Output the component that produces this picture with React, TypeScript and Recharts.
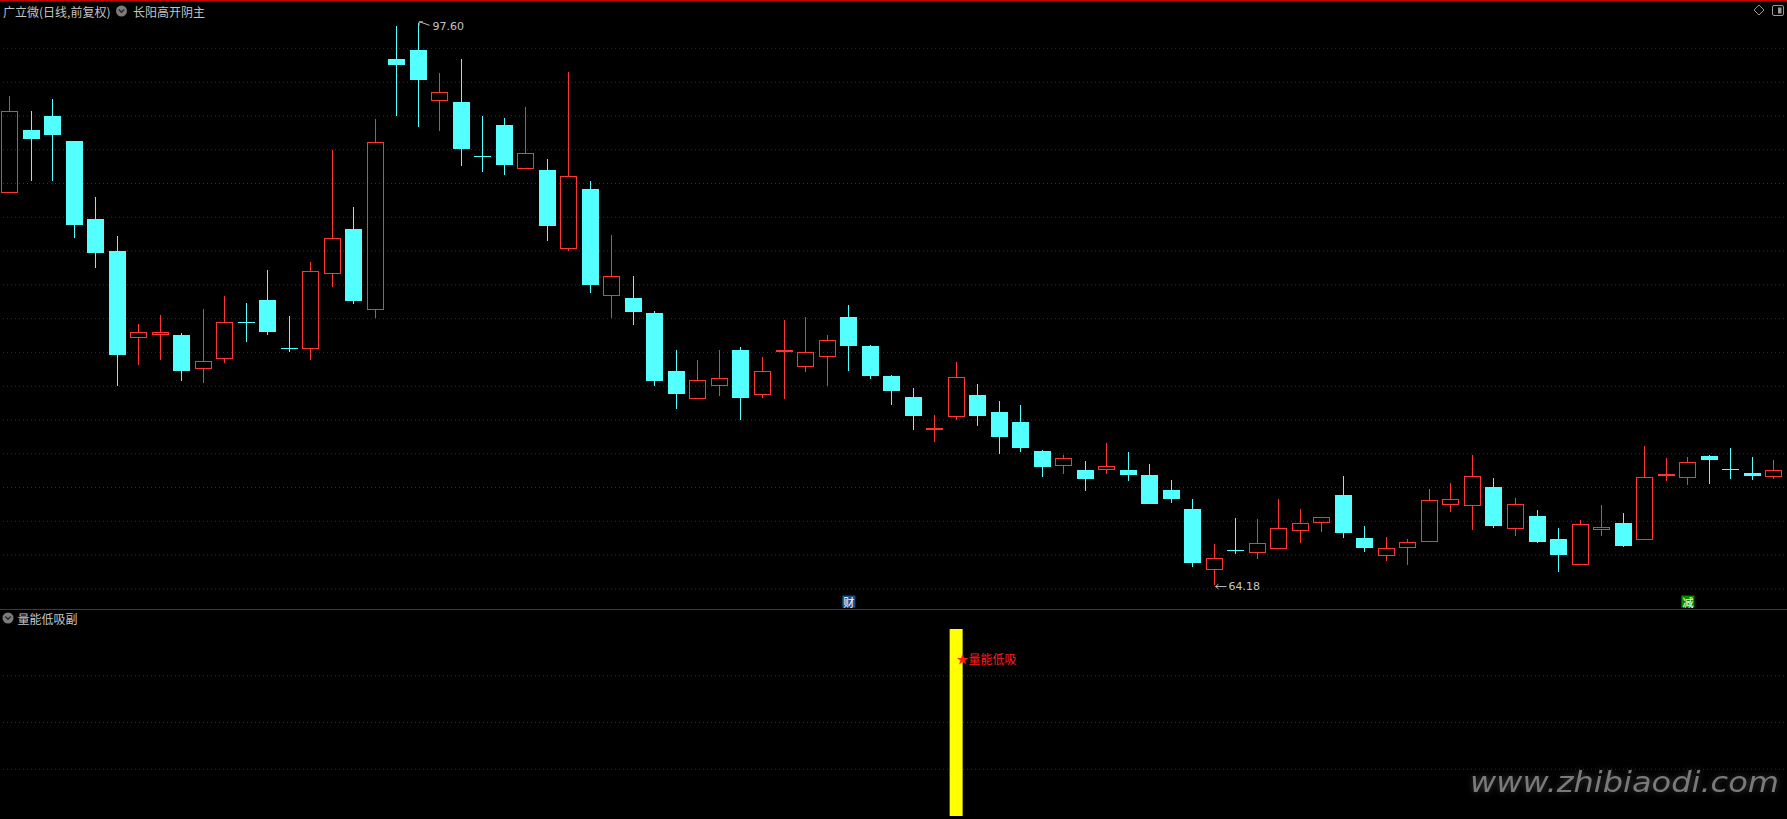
import React from "react";
import { Bar, CartesianGrid, ComposedChart, ReferenceDot, XAxis, YAxis } from "recharts";

// daily candles (前复权)
const opens = [
  87.49, 91.26, 92.09, 90.6, 85.96, 84.06, 78.86, 79.04, 79.06, 77.06,
  77.62, 79.85, 81.14, 78.27, 78.21, 82.67, 85.37, 80.53, 95.48, 96.02,
  92.96, 92.92, 89.7, 91.55, 88.92, 88.88, 84.16, 87.75, 81.36, 81.26,
  80.37, 76.92, 75.24, 76.01, 78.17, 75.47, 78.03, 77.14, 77.73, 80.13,
  78.41, 76.62, 75.37, 73.46, 74.16, 75.49, 74.48, 73.89, 72.16, 71.29,
  71.03, 71.01, 71.03, 70.73, 69.84, 68.71, 65.1, 66.28, 66.11, 66.35,
  67.42, 67.9, 69.54, 66.98, 65.93, 66.36, 66.76, 68.97, 68.91, 70.0,
  67.54, 68.28, 66.91, 65.4, 67.44, 67.86, 66.85, 70.66, 70.54, 71.85,
  71.1, 70.85, 70.63,
];
const highs = [
  93.28, 92.37, 93.1, 90.6, 87.27, 84.95, 79.72, 80.25, 79.18, 80.61,
  81.38, 80.97, 82.93, 80.19, 83.4, 90.07, 86.68, 91.91, 97.44, 97.6,
  94.65, 95.48, 92.09, 91.97, 92.62, 89.53, 94.71, 88.22, 85.01, 82.57,
  80.49, 78.17, 77.57, 78.17, 78.35, 77.75, 79.95, 80.13, 79.06, 80.85,
  78.47, 76.68, 75.93, 74.3, 77.45, 76.15, 75.13, 74.9, 72.22, 71.92,
  71.57, 72.64, 72.1, 71.39, 70.44, 69.3, 66.63, 68.17, 68.12, 69.3,
  68.71, 68.23, 70.67, 67.7, 67.04, 66.93, 69.9, 70.26, 71.94, 70.54,
  69.35, 68.65, 67.58, 68.06, 68.95, 68.47, 72.46, 71.74, 71.8, 71.92,
  72.34, 71.8, 71.63,
];
const lows = [
  87.49, 88.24, 88.24, 84.85, 83.06, 76.05, 77.29, 77.59, 76.34, 76.22,
  77.41, 78.66, 79.08, 78.07, 77.59, 81.9, 80.92, 80.09, 92.11, 91.45,
  91.21, 89.13, 88.78, 88.6, 88.92, 84.67, 84.08, 81.58, 80.09, 79.67,
  76.05, 74.68, 75.24, 75.41, 74.02, 75.33, 75.27, 76.88, 76.05, 76.94,
  76.46, 74.91, 73.43, 72.71, 74.02, 73.67, 72.0, 72.12, 70.63, 70.81,
  69.8, 70.81, 70.39, 69.02, 69.08, 65.28, 64.18, 66.05, 65.75, 66.35,
  66.71, 67.36, 67.0, 66.17, 65.63, 65.4, 66.76, 68.55, 67.48, 67.6,
  67.12, 66.71, 64.98, 65.4, 67.12, 66.47, 66.85, 70.39, 70.16, 70.22,
  70.51, 70.45, 70.51,
];
const closes = [
  92.37, 90.74, 90.98, 85.62, 83.96, 77.89, 79.22, 79.22, 76.94, 77.5,
  79.82, 79.79, 79.26, 78.21, 82.85, 84.81, 81.1, 90.52, 95.14, 94.25,
  93.5, 90.14, 89.64, 89.19, 89.87, 85.56, 88.5, 82.05, 82.55, 80.45,
  76.34, 75.57, 76.37, 76.49, 75.33, 76.9, 78.15, 78.03, 78.75, 78.42,
  76.64, 75.75, 74.26, 73.52, 76.54, 74.26, 73.01, 72.36, 71.23, 71.73,
  70.51, 71.25, 70.75, 69.02, 69.32, 65.52, 65.78, 66.22, 66.67, 67.58,
  67.86, 68.23, 67.3, 66.41, 66.37, 66.73, 69.23, 69.29, 70.66, 67.72,
  68.99, 66.76, 65.99, 67.8, 67.62, 66.53, 70.6, 70.77, 71.49, 71.64,
  71.04, 70.69, 71.01,
];

const priceDomain = [62.8, 98.9];
const gridTicks = [
  96.11, 94.1, 92.09, 90.08, 88.07, 86.06, 84.05, 82.04, 80.03,
  78.02, 76.01, 74.0, 71.99, 69.98, 67.97, 65.96, 63.95,
];

const highMark = { idx: 19, value: 97.6, text: "97.60" };
const lowMark = { idx: 56, value: 64.18, text: "64.18" };

// small boxed markers under the candles
const flagIdx = [39, 78];
const flagText = ["财", "减"];
const flagColor = ["#1c4f8c", "#008c00"];
const flagLevel = 63.2;

// 量能低吸 sub-panel
const signalIdx = [44];
const signalValues = [100];
const signalText = "★量能低吸";
const signalTextLevel = 84;
const subDomain = [0, 100];
const subTicks = [25, 50, 75];

const UP = "#ff3434";
const DOWN = "#54ffff";
const GRID = "#a80000";
const LINE = "#c80000";
const TXT = "#c4c4c4";
const CJK = "'Noto Sans CJK SC', sans-serif";

const candles = opens.map((o, i) => ({
  i,
  open: o,
  high: highs[i],
  low: lows[i],
  close: closes[i],
  range: [lows[i], highs[i]],
}));

const signals = opens.map((_, i) => {
  const k = signalIdx.indexOf(i);
  return { i, v: k >= 0 ? signalValues[k] : 0 };
});

function Candle(props: any) {
  const { x, y, width, height, payload } = props;
  const { open, high, low, close } = payload;
  const top = Math.min(y, y + height);
  const bot = Math.max(y, y + height);
  const span = high - low || 1;
  const py = (v: number) => top + ((high - v) / span) * (bot - top);
  const cx = Math.round(x + width / 2 - 0.5);
  const bx = Math.round(x);
  const bw = Math.round(width);
  const up = close >= open;
  const bTop = Math.round(py(Math.max(open, close)));
  const bBot = Math.round(py(Math.min(open, close)));
  const t = Math.round(top);
  const b = Math.round(bot);

  if (!up) {
    return (
      <g shapeRendering="crispEdges">
        <rect x={cx} y={t} width={1} height={b - t} fill={DOWN} />
        <rect x={bx} y={bTop} width={bw} height={Math.max(1, bBot - bTop)} fill={DOWN} />
      </g>
    );
  }
  if (bBot - bTop < 3) {
    return (
      <g shapeRendering="crispEdges">
        <rect x={cx} y={t} width={1} height={b - t} fill={UP} />
        <rect x={bx} y={bTop} width={bw} height={2} fill={UP} />
      </g>
    );
  }
  return (
    <g shapeRendering="crispEdges">
      {bTop > t ? <rect x={cx} y={t} width={1} height={bTop - t} fill={UP} /> : null}
      {b > bBot ? <rect x={cx} y={bBot} width={1} height={b - bBot} fill={UP} /> : null}
      <rect
        x={bx + 0.5}
        y={bTop + 0.5}
        width={bw - 1}
        height={bBot - bTop - 1}
        fill="none"
        stroke={UP}
        strokeWidth={1}
      />
    </g>
  );
}

function HighLabel({ cx, cy }: any) {
  return (
    <g>
      <path
        d={`M${cx + 11},${cy + 2} L${cx + 1},${cy - 1.5} M${cx + 0.5},${cy - 1.5} h4 M${cx + 0.5},${cy - 1.5} v4`}
        stroke="#bdbdbd"
        strokeWidth={1}
        fill="none"
      />
      <text x={cx + 14} y={cy + 3} fill={TXT} fontSize={11} fontFamily="DejaVu Sans" dominantBaseline="central">
        {highMark.text}
      </text>
    </g>
  );
}

function LowLabel({ cx, cy }: any) {
  return (
    <g>
      <path
        d={`M${cx + 12},${cy + 1.5} H${cx + 1} M${cx + 1},${cy + 1.5} l3,-2.5 M${cx + 1},${cy + 1.5} l3,2.5`}
        stroke="#bdbdbd"
        strokeWidth={1}
        fill="none"
      />
      <text x={cx + 14} y={cy + 1.5} fill={TXT} fontSize={11} fontFamily="DejaVu Sans" dominantBaseline="central">
        {lowMark.text}
      </text>
    </g>
  );
}

function flagShape(k: number) {
  return ({ cx, cy }: any) => (
    <g>
      <rect x={cx - 6.5} y={cy - 6} width={13} height={12} fill={flagColor[k]} />
      <text
        x={cx}
        y={cy}
        fill="#ffffff"
        fontSize={11}
        fontFamily={CJK}
        textAnchor="middle"
        dominantBaseline="central"
      >
        {flagText[k]}
      </text>
    </g>
  );
}

function SignalLabel({ cx, cy }: any) {
  return (
    <text x={cx} y={cy} fill="#ff1e1e" fontSize={12} fontFamily={CJK} dominantBaseline="central">
      {signalText}
    </text>
  );
}

export default function App() {
  return (
    <div
      style={{
        position: "fixed",
        left: 0,
        top: 0,
        width: 1787,
        height: 819,
        background: "#000",
        overflow: "hidden",
      }}
    >
      <div style={{ position: "absolute", left: -1.46, top: 0 }}>
        <ComposedChart
          width={1787}
          height={609}
          data={candles}
          margin={{ top: 1.45, right: 1.3, left: 0, bottom: 0.75 }}
        >
          <CartesianGrid
            vertical={false}
            horizontalValues={gridTicks}
            stroke={GRID}
            strokeDasharray="1 3"
          />
          <XAxis dataKey="i" type="category" hide />
          <YAxis type="number" domain={priceDomain} ticks={gridTicks} allowDataOverflow hide />
          <Bar dataKey="range" barSize={17} shape={<Candle />} isAnimationActive={false} />
          <ReferenceDot x={highMark.idx} y={highMark.value} r={0} shape={HighLabel} ifOverflow="visible" />
          <ReferenceDot x={lowMark.idx} y={lowMark.value} r={0} shape={LowLabel} ifOverflow="visible" />
          {flagIdx.map((idx, k) => (
            <ReferenceDot key={idx} x={idx} y={flagLevel} r={0} shape={flagShape(k)} ifOverflow="visible" />
          ))}
        </ComposedChart>
      </div>

      <div style={{ position: "absolute", left: -1.46, top: 610 }}>
        <ComposedChart
          width={1787}
          height={209}
          data={signals}
          margin={{ top: 19, right: 1.3, left: 0, bottom: 3 }}
        >
          <CartesianGrid
            vertical={false}
            horizontalValues={subTicks}
            stroke={GRID}
            strokeDasharray="1 3"
          />
          <XAxis dataKey="i" type="category" hide />
          <YAxis type="number" domain={subDomain} ticks={subTicks} hide />
          <Bar dataKey="v" barSize={13} fill="#ffff00" isAnimationActive={false} />
          <ReferenceDot
            x={signalIdx[0]}
            y={signalTextLevel}
            r={0}
            shape={SignalLabel}
            ifOverflow="visible"
          />
        </ComposedChart>
      </div>

      <svg
        width={1787}
        height={819}
        style={{ position: "absolute", left: 0, top: 0, pointerEvents: "none" }}
      >
        <rect x={0} y={0} width={1787} height={1.5} fill={LINE} />
        <rect x={0} y={609} width={1787} height={1} fill={LINE} />

        <text x={3} y={11} fill={TXT} fontSize={12} fontFamily={CJK} dominantBaseline="central">
          广立微(日线,前复权)
        </text>
        <circle cx={121.5} cy={11} r={5.5} fill="#7c7c7c" />
        <path d="M118.8,9.6 L121.5,12.3 L124.2,9.6" stroke="#262626" strokeWidth={1.4} fill="none" />
        <text x={133} y={11} fill={TXT} fontSize={12} fontFamily={CJK} dominantBaseline="central">
          长阳高开阴主
        </text>

        <circle cx={8} cy={618} r={5.5} fill="#7c7c7c" />
        <path d="M5.3,616.6 L8,619.3 L10.7,616.6" stroke="#262626" strokeWidth={1.4} fill="none" />
        <text x={17.5} y={618} fill={TXT} fontSize={12} fontFamily={CJK} dominantBaseline="central">
          量能低吸副
        </text>

        <path d="M1759,5 L1764,10 L1759,15 L1754,10 Z" stroke="#9a9a9a" strokeWidth={1} fill="none" />
        <rect x={1772.5} y={5.5} width={11} height={10} rx={1.5} stroke="#9a9a9a" strokeWidth={1} fill="none" />
        <rect x={1778} y={7.5} width={3.5} height={6} fill="#9a9a9a" />

        <text
          x={1470}
          y={792}
          fill="#7a7a7a"
          fontSize={28}
          fontStyle="italic"
          fontFamily="DejaVu Sans"
          textLength={309}
          lengthAdjust="spacingAndGlyphs"
          style={{ filter: "drop-shadow(0 0 3px #3a3a3a)" }}
        >
          www.zhibiaodi.com
        </text>
      </svg>
    </div>
  );
}
